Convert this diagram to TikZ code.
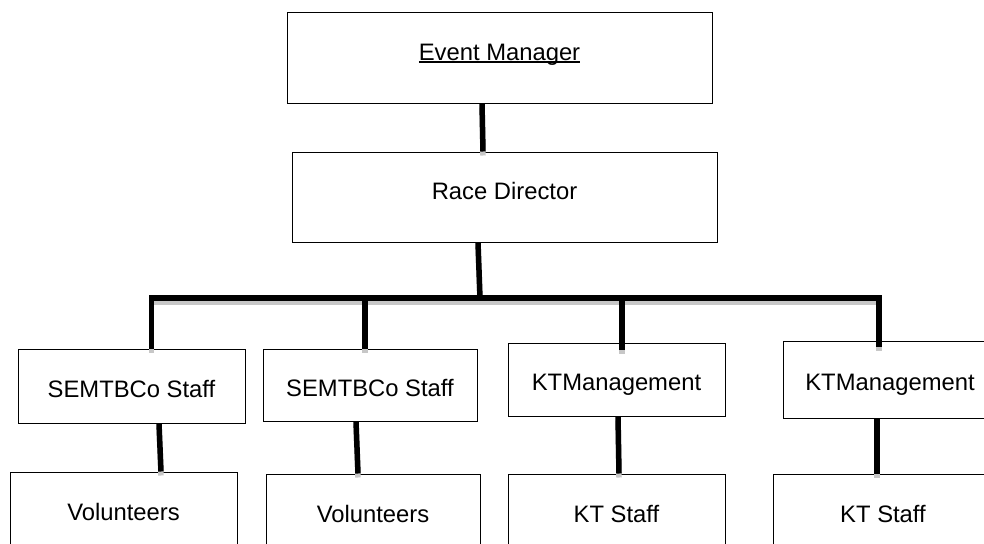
\documentclass[tikz,border=0pt]{standalone}
\usepackage{fontspec}
\setmainfont{Liberation Sans}
\usepackage{tikz}

\newsavebox{\ulbox}
\newcommand{\ulined}[1]{\sbox{\ulbox}{#1}\rlap{\rule[-2.5pt]{\wd\ulbox}{1.5pt}}\usebox{\ulbox}}

\begin{document}
\begin{tikzpicture}[x=1pt, y=-1pt,
  box/.style={draw, line width=1pt, inner sep=0pt, text height=22pt, text depth=0pt,
    font=\fontsize{23.8}{28}\selectfont},
  topbox/.style={box, minimum width=425pt, minimum height=90pt, text depth=17pt},
  link/.style={line width=5.5pt, line join=miter,
    preaction={draw, black!22, line width=5.5pt, transform canvas={yshift=-4pt}}}]
\useasboundingbox (0,0) rectangle (984,543);

\node (em) [topbox] at (499.5,58) {\ulined{Event Manager}};
\node (rd) [topbox] at (504.5,197) {Race Director};

\node (s1) [box, minimum width=227pt, minimum height=74pt] at (131.5,386) {SEMTBCo Staff};
\node (s2) [box, minimum width=214pt, minimum height=72pt] at (370,385) {SEMTBCo Staff};
\node (k1) [box, minimum width=217pt, minimum height=73pt] at (616.5,379.5) {KTManagement};
\node (k2) [box, minimum width=214pt, minimum height=77pt] at (890,379.5) {KTManagement};

\node (v1) [box, minimum width=227pt, minimum height=75pt] at (123.5,509.5) {Volunteers};
\node (v2) [box, minimum width=214pt, minimum height=75pt] at (373,511.5) {Volunteers};
\node (t1) [box, minimum width=217pt, minimum height=75pt] at (616.5,511.5) {KT Staff};
\node (t2) [box, minimum width=220pt, minimum height=75pt] at (883,511.5) {KT Staff};

\coordinate (bus) at (500,298);

\draw[link] ([xshift=-17.5pt]em.south) -- ([xshift=-21.5pt]rd.north);
\draw[link] ([xshift=-26.5pt]rd.south) -- ([xshift=-24.5pt]rd.south |- bus);
\draw[link] ([xshift=20pt]s1.north) |- ([xshift=-11pt]k2.north |- bus)
  -- ([xshift=-11pt,yshift=-6pt]k2.north);
\draw[link] ([xshift=-5pt]s2.north |- bus) -- ([xshift=-5pt]s2.north);
\draw[link] ([xshift=5.5pt]k1.north |- bus) -- ([xshift=5.5pt,yshift=-7pt]k1.north);

\draw[link] ([xshift=27.5pt]s1.south) -- ([xshift=37.5pt]v1.north);
\draw[link] ([xshift=-14pt]s2.south) -- ([xshift=-15pt]v2.north);
\draw[link] ([xshift=1.5pt]k1.south) -- ([xshift=2.5pt]t1.north);
\draw[link] ([xshift=-13pt]k2.south) -- ([xshift=-6pt]t2.north);
\end{tikzpicture}
\end{document}
